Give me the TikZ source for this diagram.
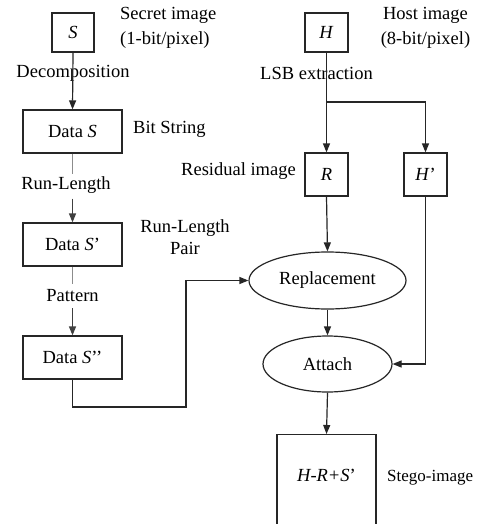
\documentclass[tikz,border=0pt]{standalone}
\usepackage{fontspec}
\setmainfont{Liberation Serif}
\usetikzlibrary{arrows.meta,shapes.geometric,calc}
\begin{document}
\begin{tikzpicture}[x=1pt,y=-1pt,
  every node/.style={font=\rmfamily\fontsize{18.5}{22}\selectfont, inner sep=0pt},
  box/.style={draw=black!85, line width=1.2pt, rectangle},
  oval/.style={draw=black!85, line width=1.2pt, ellipse},
  lab/.style={},
  conn/.style={draw=black!85, line width=1.2pt},
  arr/.style={conn, -{Triangle[length=9pt,width=7pt]}},
  faint/.style={draw=black!45, line width=1.2pt}]
\clip (0,0) rectangle (480,524);
\fill[white] (0,0) rectangle (480,524);
% boxes
\node[box, minimum width=42pt, minimum height=39pt] (S) at (73,32.5) {\textit{S}};
\node[box, minimum width=43pt, minimum height=39pt] (H) at (326.5,32.5) {\textit{H}};
\node[box, minimum width=99pt, minimum height=43pt] (ds) at (72.5,131.5) {Data \textit{S}};
\node[box, minimum width=99pt, minimum height=43pt] (ds1) at (72.5,244.5) {Data \textit{S}’};
\node[box, minimum width=99pt, minimum height=43pt] (ds2) at (72.5,357.5) {Data \textit{S}’’};
\node[box, minimum width=43pt, minimum height=43pt] (R) at (326.5,174.5) {\textit{R}};
\node[box, minimum width=43pt, minimum height=43pt] (Hp) at (425.5,174.5) {\textit{H}’};
\node[oval, minimum width=157pt, minimum height=57pt] (rep) at (327.5,280.5) {Replacement};
\node[oval, minimum width=129pt, minimum height=56pt] (att) at (327.5,364) {Attach};
\node[box, anchor=north, minimum width=99pt, minimum height=104pt] (stego) at (326.5,434) {};
\node (stegotxt) at (326.5,475) {\textit{H-R+S}’};
% labels
\node[lab, anchor=west, align=left, font=\rmfamily\fontsize{18.5}{25}\selectfont] (secret) at (120,28) {Secret image\\(1-bit/pixel)};
\node[lab, align=center, font=\rmfamily\fontsize{18.5}{25}\selectfont] (host) at (425.5,28) {Host image\\(8-bit/pixel)};
\node[lab] (decomp) at (73,73) {Decomposition};
\node[lab] (lsb) at (316.5,73) {LSB extraction};
\node[lab, anchor=west] (bits) at (133,129) {Bit String};
\node[lab] (rl) at (66,185) {Run-Length};
\node[lab, align=center] (rlp) at (185,237) {Run-Length\\Pair};
\node[lab] (pat) at (72.5,296) {Pattern};
\node[lab, anchor=west] (resid) at (181,171) {Residual image};
\node[lab, anchor=west, font=\rmfamily\fontsize{17}{20}\selectfont] (stegolab) at (387,478) {Stego-image};
% connectors
\draw[arr] (S.south) -- (ds.north);
\draw[faint, shorten >=2pt] (ds.south) -- (ds.south |- rl.north);
\draw[arr, draw=black!75, shorten <=5pt] (ds1.north |- rl.south) -- (ds1.north);
\draw[faint, shorten >=6pt] (ds1.south) -- (ds1.south |- pat.north);
\draw[arr, draw=black!75, shorten <=6pt] (ds2.north |- pat.south) -- (ds2.north);
\coordinate (c1) at (186,407);
\draw[arr] (ds2.south) |- (c1) |- (rep.west);
\coordinate (j) at (326.5,102);
\draw[arr] (H.south) -- (R.north);
\draw[arr] (j) -| (Hp.north);
\draw[arr] (R.south) -- (rep.north);
\draw[arr] (rep.south) -- (att.north);
\draw[arr] (Hp.south) |- (att.east);
\draw[arr] (att.south) -- (stego.north);
\end{tikzpicture}
\end{document}
